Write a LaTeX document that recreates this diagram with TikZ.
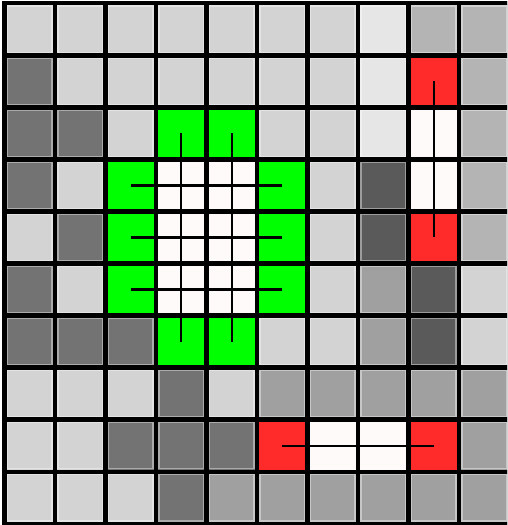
\documentclass[tikz,border=0pt]{standalone}
\definecolor{GridLight}{RGB}{211,211,211}
\definecolor{GridPale}{RGB}{230,230,230}
\definecolor{GridMid}{RGB}{180,180,180}
\definecolor{GridGrey}{RGB}{160,160,160}
\definecolor{GridDark}{RGB}{115,115,115}
\definecolor{GridDeep}{RGB}{90,90,90}
\definecolor{RegionGreen}{RGB}{0,255,0}
\definecolor{SeedRed}{RGB}{255,42,42}
\definecolor{HoleWhite}{RGB}{255,250,250}
\usepackage{tikz}

\begin{document}
\begin{tikzpicture}[
      x=50.5pt, y=-52.1pt,
      rim/.style={draw=white, draw opacity=0.4, line width=1.1pt},
      norim/.style={draw=none},
      c-L/.style={fill=GridLight},   r-L/.style={rim},
      c-P/.style={fill=GridPale},    r-P/.style={rim},
      c-M/.style={fill=GridMid},     r-M/.style={rim},
      c-G/.style={fill=GridGrey},    r-G/.style={rim},
      c-D/.style={fill=GridDark},    r-D/.style={rim},
      c-K/.style={fill=GridDeep},    r-K/.style={rim},
      c-E/.style={fill=RegionGreen}, r-E/.style={norim},
      c-R/.style={fill=SeedRed},     r-R/.style={norim},
      c-W/.style={fill=HoleWhite},   r-W/.style={norim},
      gridline/.style={line width=4.8pt, line cap=rect, black},
      link/.style={line width=2.3pt, black}
    ]
      \clip (-0.0891,-0.0576) rectangle (9.9505,10.0192);
      \fill[white] (-0.0891,-0.0576) rectangle (9.9505,10.0192);

      % cells, one row per entry
      \foreach \codes [count=\r from 0] in {
          {L,L,L,L,L,L,L,P,M,M},
          {D,L,L,L,L,L,L,P,R,M},
          {D,D,L,E,E,L,L,P,W,M},
          {D,L,E,W,W,E,L,K,W,M},
          {L,D,E,W,W,E,L,K,R,M},
          {D,L,E,W,W,E,L,G,K,L},
          {D,D,D,E,E,L,L,G,K,L},
          {L,L,L,D,L,G,G,G,G,G},
          {L,L,D,D,D,R,W,W,R,G},
          {L,L,L,D,G,G,G,G,G,G}} {
        \foreach \c [count=\k from 0] in \codes {
          \fill[c-\c] (\k,\r) rectangle ++(1,1);
          \path[r-\c] ([shift={(3pt,-3pt)}]\k,\r)
                      rectangle ([shift={(-3pt,3pt)}]\k+1,\r+1);
        }
      }

      % split lines of the white region
      \foreach \i in {3.5,4.5}
        \draw[link] (\i,2.5) -- (\i,6.5);
      \foreach \j in {3.5,4.5,5.5}
        \draw[link] (2.5,\j) -- (5.5,\j);

      % red chains
      \coordinate (vtop) at (8.5,1.5);
      \coordinate (vbot) at (8.5,4.5);
      \coordinate (hleft) at (5.5,8.5);
      \coordinate (hright) at (8.5,8.5);
      \draw[link] (vtop) -- (vbot);
      \draw[link] (hleft) -- (hright);

      % grid
      \foreach \i in {0,...,10} {
        \draw[gridline] (\i,0) -- (\i,10);
        \draw[gridline] (0,\i) -- (10,\i);
      }
    \end{tikzpicture}
\end{document}
